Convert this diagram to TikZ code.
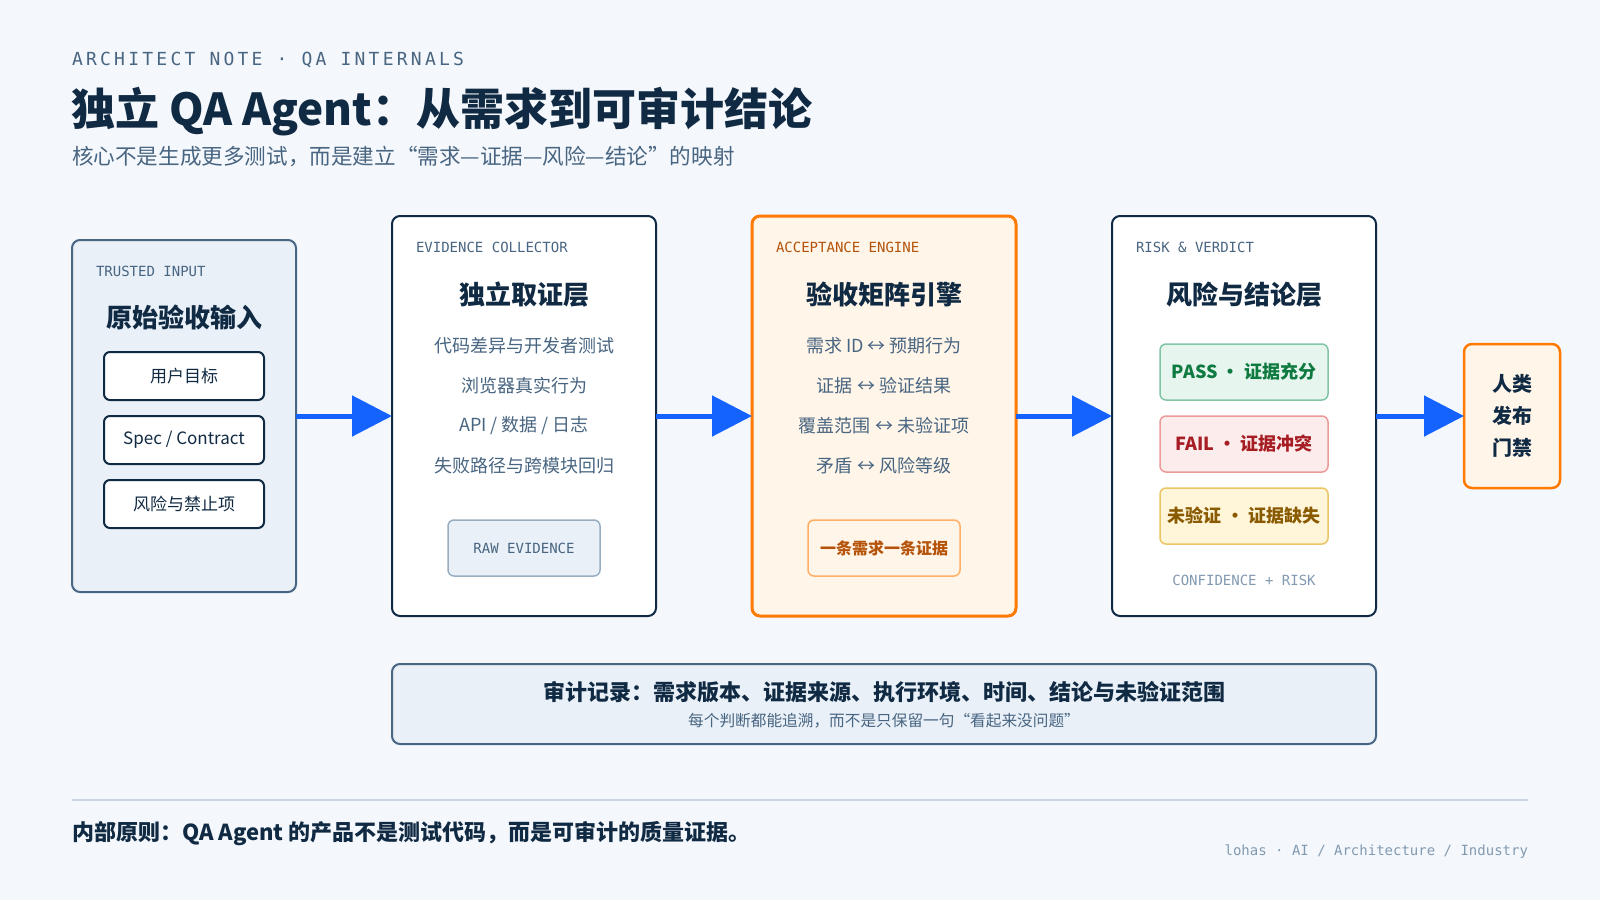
\documentclass[tikz,border=0pt]{standalone}
\usepackage{fontspec}
\usepackage{xcolor}
\usepackage{tikz}
\usetikzlibrary{arrows.meta,positioning,shapes,calc}
\setmainfont{Noto Sans CJK SC}
\newfontfamily\monofont{DejaVu Sans Mono}
\newfontfamily\headmono[LetterSpace=18]{DejaVu Sans Mono}
\newcommand\pxu{0.75pt}
\definecolor{bgc}{HTML}{F4F7FB}
\definecolor{navy}{HTML}{102A43}
\definecolor{slate}{HTML}{486581}
\definecolor{mist}{HTML}{829AB1}
\definecolor{pale}{HTML}{E9F0F8}
\definecolor{flowblue}{HTML}{1463FF}
\definecolor{orng}{HTML}{FF7A00}
\definecolor{orngfill}{HTML}{FFF5E9}
\definecolor{orngtext}{HTML}{B45309}
\definecolor{orngline}{HTML}{FFB066}
\definecolor{okfill}{HTML}{E6F5EE}
\definecolor{okline}{HTML}{82C4A4}
\definecolor{oktext}{HTML}{0E7A40}
\definecolor{badfill}{HTML}{FDECEC}
\definecolor{badline}{HTML}{EC9A9A}
\definecolor{badtext}{HTML}{A61E24}
\definecolor{warnfill}{HTML}{FFF6DA}
\definecolor{warnline}{HTML}{EBC565}
\definecolor{warntext}{HTML}{8A5A00}
\definecolor{rulec}{HTML}{CCD6E2}

\begin{document}
\begin{tikzpicture}[
  x=0.75pt, y=-0.75pt,
  every node/.style={inner sep=0pt, outer sep=0pt},
  stage/.style={rectangle, draw=navy, line width=2*\pxu, rounded corners=8*\pxu, fill=white, minimum width=264*\pxu, minimum height=400*\pxu},
  tag/.style={anchor=west, font=\monofont\fontsize{10.5}{12}\selectfont, text=slate},
  head/.style={font=\bfseries\fontsize{19.5}{24}\selectfont, text=navy},
  item/.style={font=\fontsize{13.5}{16}\selectfont, text=slate},
  chip/.style={rectangle, draw=navy, line width=2*\pxu, rounded corners=6*\pxu, fill=white, minimum width=160*\pxu, minimum height=48*\pxu, font=\fontsize{12.75}{15}\selectfont, text=navy},
  verdict/.style={rectangle, line width=1.5*\pxu, rounded corners=6*\pxu, minimum width=168*\pxu, minimum height=56*\pxu, font=\bfseries\fontsize{13.5}{16}\selectfont},
  flow/.style={draw=flowblue, line width=5*\pxu, -{Triangle[length=40*\pxu, width=40*\pxu]}},
  >=Stealth
]
% Page
\fill[bgc] (0,0) rectangle (1600,900);
\useasboundingbox (0,0) rectangle (1600,900);

% Heading
\node[anchor=west, font=\headmono\fontsize{13.5}{16}\selectfont, text=slate] (kicker) at (72,60) {ARCHITECT NOTE · QA INTERNALS};
\node[anchor=west, font=\bfseries\fontsize{33}{40}\selectfont, text=navy] (title) at (71,112) {独立 QA Agent：从需求到可审计结论};
\node[anchor=west, font=\fontsize{16.2}{19}\selectfont, text=slate] (subtitle) at (72,157) {核心不是生成更多测试，而是建立“需求—证据—风险—结论”的映射};

% Stages as boxes
\node[stage, draw=slate, fill=pale, minimum width=224*\pxu, minimum height=352*\pxu] (input) at (184,416) {};
\node[stage] (collector) at (524,416) {};
\node[stage, draw=orng, fill=orngfill, line width=3*\pxu] (engine) at (884,416) {};
\node[stage] (verdictbox) at (1244,416) {};
\node[stage, draw=orng, fill=orngfill, line width=2.5*\pxu, minimum width=96*\pxu, minimum height=144*\pxu, align=center, font=\bfseries\fontsize{15}{24}\selectfont, text=navy] (gate) at (1512,416) {人类\\发布\\门禁};

% Trusted input
\node[tag] (inputtag) at (96,271) {TRUSTED INPUT};
\node[head] (inputhead) at (184,317) {原始验收输入};
\node[chip] (goal) at (184,376) {用户目标};
\node[chip] (spec) at (184,440) {Spec / Contract};
\node[chip] (forbid) at (184,504) {风险与禁止项};

% Evidence collector
\node[tag] (collectortag) at (416,247) {EVIDENCE COLLECTOR};
\node[head] (collectorhead) at (524,295) {独立取证层};
\node[item] (c1) at (524,346) {代码差异与开发者测试};
\node[item] (c2) at (524,386) {浏览器真实行为};
\node[item] (c3) at (524,426) {API / 数据 / 日志};
\node[item] (c4) at (524,466) {失败路径与跨模块回归};
\node[chip, draw=mist!80, fill=pale, line width=1.5*\pxu, minimum width=152*\pxu, minimum height=56*\pxu, font=\monofont\fontsize{10.5}{12}\selectfont, text=slate] (raw) at (524,548) {RAW EVIDENCE};

% Acceptance engine
\node[tag, text=orngtext] (enginetag) at (776,247) {ACCEPTANCE ENGINE};
\node[head] (enginehead) at (884,295) {验收矩阵引擎};
\node[item] (e1) at (884,346) {需求 ID ↔ 预期行为};
\node[item] (e2) at (884,386) {证据 ↔ 验证结果};
\node[item] (e3) at (884,426) {覆盖范围 ↔ 未验证项};
\node[item] (e4) at (884,466) {矛盾 ↔ 风险等级};
\node[chip, draw=orngline, fill=orngfill, line width=1.5*\pxu, minimum width=152*\pxu, minimum height=56*\pxu, font=\bfseries\fontsize{12}{14}\selectfont, text=orngtext] (rule) at (884,548) {一条需求一条证据};

% Risk and verdict
\node[tag] (verdicttag) at (1136,247) {RISK \& VERDICT};
\node[head] (verdicthead) at (1244,295) {风险与结论层};
\node[verdict, draw=okline, fill=okfill, text=oktext] (pass) at (1244,372) {PASS · 证据充分};
\node[verdict, draw=badline, fill=badfill, text=badtext] (fail) at (1244,444) {FAIL · 证据冲突};
\node[verdict, draw=warnline, fill=warnfill, text=warntext] (unknown) at (1244,516) {未验证 · 证据缺失};
\node[font=\monofont\fontsize{10.5}{12}\selectfont, text=mist] (confidence) at (1244,580) {CONFIDENCE + RISK};

% Flow
\draw[flow] (input) -- (collector);
\draw[flow] (collector) -- (engine);
\draw[flow] (engine) -- (verdictbox);
\draw[flow] (verdictbox) -- (gate);

% Audit trail
\node[rectangle, draw=slate, fill=pale, line width=2*\pxu, rounded corners=8*\pxu, minimum width=984*\pxu, minimum height=80*\pxu] (audit) at (884,704) {};
\node[font=\bfseries\fontsize{16.5}{19}\selectfont, text=navy] (audithead) at (884,692) {审计记录：需求版本、证据来源、执行环境、时间、结论与未验证范围};
\node[font=\fontsize{11.75}{14}\selectfont, text=slate] (auditnote) at (884,721) {每个判断都能追溯，而不是只保留一句“看起来没问题”};

% Footer
\coordinate (ruleleft) at (72,800);
\coordinate (ruleright) at (1528,800);
\draw[rulec, line width=2*\pxu] (ruleleft) -- (ruleright);
\node[anchor=west, font=\bfseries\fontsize{16.5}{19}\selectfont, text=navy] (principle) at (72,834) {内部原则：QA Agent 的产品不是测试代码，而是可审计的质量证据。};
\node[anchor=east, font=\monofont\fontsize{10.5}{12}\selectfont, text=mist] (credit) at (1528,852) {lohas · AI / Architecture / Industry};

\end{tikzpicture}
\end{document}
